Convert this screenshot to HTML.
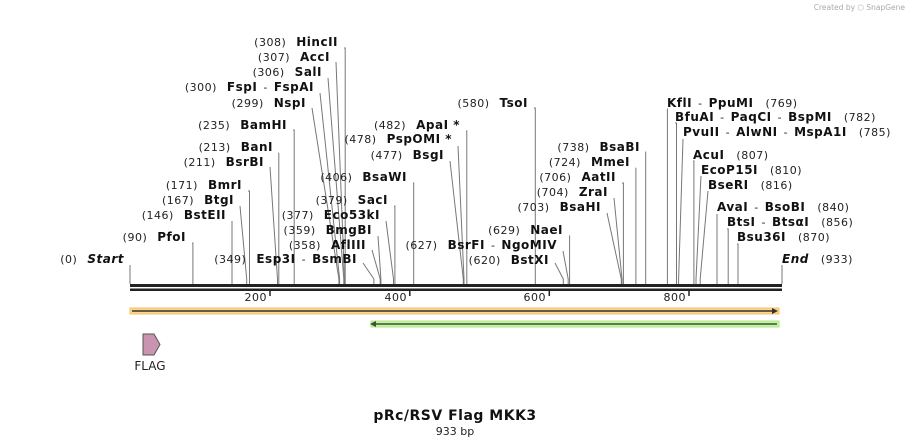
<!DOCTYPE html>
<html><head><meta charset="utf-8"><style>
body{margin:0;background:#fff;}
svg{display:block;font-family:"DejaVu Sans","Verdana","Liberation Sans",sans-serif;}
.n{font-size:11px;fill:#222;letter-spacing:0.5px;}
.b{font-size:12px;font-weight:bold;fill:#111;letter-spacing:0.5px;}
</style></head><body>
<svg id="s" width="912" height="447" viewBox="0 0 912 447" xmlns="http://www.w3.org/2000/svg">
<text x="905" y="10" text-anchor="end" style="font-size:7.5px;fill:#aaa">Created by ⬡ SnapGene</text>
<g id="lines" stroke="#777" stroke-width="1" fill="none"></g>
<g id="labels"></g>
<rect x="130" y="284" width="652" height="3" fill="#222"/>
<rect x="130" y="288.5" width="652" height="2.5" fill="#222"/>
<g stroke="#222" stroke-width="1.5">
<line x1="270" y1="290" x2="270" y2="296"/><line x1="409.8" y1="290" x2="409.8" y2="296"/>
<line x1="549.3" y1="290" x2="549.3" y2="296"/><line x1="689" y1="290" x2="689" y2="296"/>
</g>
<g class="n" text-anchor="end" style="font-size:11px">
<text x="267" y="301">200</text><text x="407" y="301">400</text><text x="546" y="301">600</text><text x="686" y="301">800</text>
</g>
<rect x="130" y="308" width="649" height="6" fill="#fdd48c" stroke="#f7c06a" stroke-width="1"/>
<line x1="132" y1="311" x2="774" y2="311" stroke="#333" stroke-width="1.6"/>
<polygon points="778,311 772,308 772,314" fill="#333"/>
<rect x="371" y="321" width="408" height="6" fill="#c8f2a4" stroke="#aee884" stroke-width="1"/>
<line x1="376" y1="324" x2="777" y2="324" stroke="#3e5030" stroke-width="1.6"/>
<polygon points="370,324 376,321 376,327" fill="#3e5030"/>
<polygon points="143,334 154,334 160,344.5 154,355 143,355" fill="#c994b0" stroke="#555" stroke-width="1"/>
<text x="150" y="370" text-anchor="middle" style="font-size:12px;fill:#222">FLAG</text>
<text x="455" y="420" text-anchor="middle" style="font-size:14px;font-weight:bold;fill:#111;letter-spacing:0.5px">pRc/RSV Flag MKK3</text>
<text x="455" y="435" text-anchor="middle" style="font-size:11px;fill:#222">933 bp</text>
</svg>
<script>
var S=130,K=652/933;
var L=[
[0,130,265,259,'L','(0)',['Start'],1],
[90,192,243,237,'L','(90)',['PfoI']],
[146,232,221,215,'L','(146)',['BstEII']],
[167,240,206,200,'L','(167)',['BtgI']],
[171,248,191,185,'L','(171)',['BmrI']],
[211,270,167,162,'L','(211)',['BsrBI']],
[213,279,153,147,'L','(213)',['BanI']],
[235,293,130,125,'L','(235)',['BamHI']],
[299,312,108,103,'L','(299)',['NspI']],
[300,320,93,87,'L','(300)',['FspI','FspAI']],
[306,328,78,72,'L','(306)',['SalI']],
[307,336,62,57,'L','(307)',['AccI']],
[308,344,48,42,'L','(308)',['HincII']],
[349,363,263,259,'L','(349)',['Esp3I','BsmBI']],
[358,372,250,245,'L','(358)',['AflIII']],
[359,378,236,230,'L','(359)',['BmgBI']],
[377,386,221,215,'L','(377)',['Eco53kI']],
[379,394,206,200,'L','(379)',['SacI']],
[406,413,183,177,'L','(406)',['BsaWI']],
[477,450,161,155,'L','(477)',['BsgI']],
[478,458,146,139,'L','(478)',['PspOMI *']],
[482,466,131,125,'L','(482)',['ApaI *']],
[580,534,108,103,'L','(580)',['TsoI']],
[620,555,263,260,'L','(620)',['BstXI']],
[627,563,251,245,'L','(627)',['BsrFI','NgoMIV']],
[629,569,236,230,'L','(629)',['NaeI']],
[703,607,213,207,'L','(703)',['BsaHI']],
[704,614,198,192,'L','(704)',['ZraI']],
[706,622,183,177,'L','(706)',['AatII']],
[724,636,168,162,'L','(724)',['MmeI']],
[738,646,152,147,'L','(738)',['BsaBI']],
[769,667,109,103,'R','(769)',['KflI','PpuMI']],
[782,675,123,117,'R','(782)',['BfuAI','PaqCI','BspMI']],
[785,683,139,132,'R','(785)',['PvuII','AlwNI','MspA1I']],
[807,693,161,155,'R','(807)',['AcuI']],
[810,701,176,170,'R','(810)',['EcoP15I']],
[816,708,191,185,'R','(816)',['BseRI']],
[840,717,214,207,'R','(840)',['AvaI','BsoBI']],
[856,727,229,222,'R','(856)',['BtsI','BtsαI']],
[870,737,244,237,'R','(870)',['Bsu36I']],
[933,782,265,259,'R','(933)',['End'],1]
];
var NS='http://www.w3.org/2000/svg',lg=document.getElementById('lines'),tg=document.getElementById('labels');
function el(t,a,p){var e=document.createElementNS(NS,t);for(var k in a)e.setAttribute(k,a[k]);p.appendChild(e);return e;}
L.forEach(function(d){
 var sx=S+d[0]*K;
 el('polyline',{points:d[1]+','+d[2]+' '+sx.toFixed(1)+','+(Math.abs(d[1]-sx)<1.5?d[2]:279)+' '+sx.toFixed(1)+',284'},lg);
 var y=d[3]+4;
 var t=el('text',{y:y},tg);
 function sp(txt,cls,dx,it){var s=el('tspan',{'class':cls},t);if(dx)s.setAttribute('dx',dx);if(it)s.setAttribute('font-style','italic');s.textContent=txt;}
 if(d[4]=='L'){
   t.setAttribute('x',d[1]-6);t.setAttribute('text-anchor','end');
   sp(d[5],'n');
   d[6].forEach(function(p,i){ if(i>0) sp('-','n',6); sp(p,'b',i==0?10:6,d[7]); });
 } else {
   t.setAttribute('x',d[1]);
   d[6].forEach(function(p,i){ if(i>0) sp('-','n',6); sp(p,'b',i==0?0:6,d[7]); });
   sp(d[5],'n',12);
 }
});
</script>
</body></html>
